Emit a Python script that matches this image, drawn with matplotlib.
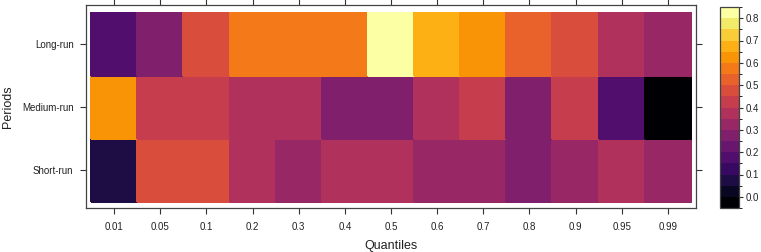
import numpy as np
import matplotlib
matplotlib.use("Agg")
import matplotlib.pyplot as plt
from matplotlib.colors import ListedColormap, BoundaryNorm

plt.rcParams['font.family'] = ['Liberation Sans', 'DejaVu Sans']

quantiles = ["0.01", "0.05", "0.1", "0.2", "0.3", "0.4", "0.5", "0.6", "0.7", "0.8", "0.9", "0.95", "0.99"]
periods = ["Short-run", "Medium-run", "Long-run"]

short_run = [0.07, 0.47, 0.47, 0.37, 0.32, 0.37, 0.37, 0.32, 0.32, 0.27, 0.32, 0.37, 0.32]
medium_run = [0.62, 0.42, 0.42, 0.37, 0.37, 0.27, 0.27, 0.37, 0.42, 0.27, 0.42, 0.17, -0.02]
long_run = [0.17, 0.27, 0.47, 0.57, 0.57, 0.57, 0.82, 0.67, 0.62, 0.52, 0.47, 0.37, 0.32]

levels = np.arange(-0.05, 0.851, 0.05)
cbar_ticks = [0.0, 0.1, 0.2, 0.3, 0.4, 0.5, 0.6, 0.7, 0.8]

Z = np.array([short_run, medium_run, long_run])
ncol = len(quantiles)
nrow = len(periods)

cmap = ListedColormap(plt.cm.inferno(np.linspace(0, 1, len(levels) - 1)))
norm = BoundaryNorm(levels, cmap.N)

fig = plt.figure(figsize=(7.61, 2.52), dpi=100)
ax = fig.add_axes([86/761, 1 - 208/252, (696 - 86)/761, (208 - 5)/252])
xe = np.arange(ncol + 1) - 0.5
ye = np.arange(nrow + 1) - 0.5
mesh = ax.pcolormesh(xe, ye, Z, cmap=cmap, norm=norm, edgecolors='face', linewidth=0.3)

ax.set_xlim(-0.5 - 0.11, ncol - 0.5 + 0.11)
ax.set_ylim(-0.5 - 0.1, nrow - 0.5 + 0.125)
ax.set_xticks(np.arange(ncol))
ax.set_xticklabels(quantiles)
ax.set_yticks(np.arange(nrow))
ax.set_yticklabels(periods)
ax.tick_params(axis='both', which='both', direction='out', length=4, width=0.8,
               color='#333333', labelsize=7, labelcolor='#222222',
               top=True, right=True, labeltop=False, labelright=False)
ax.tick_params(axis='x', pad=6)
ax.tick_params(axis='y', pad=5)
for s in ax.spines.values():
    s.set_color('#444444')
    s.set_linewidth(0.9)

ax.set_xlabel("Quantiles", fontsize=9, color='#222222', labelpad=6)
ax.set_ylabel("Periods", fontsize=9, color='#222222', labelpad=6)

cax = fig.add_axes([720/761, 1 - 208/252, 19/761, 201/252])
cb = fig.colorbar(mesh, cax=cax, boundaries=levels, ticks=cbar_ticks)
cb.ax.set_yticklabels([f"{t:.1f}" for t in cbar_ticks])
cb.ax.tick_params(direction='out', length=3, width=0.8, color='#333333',
                  labelsize=7, labelcolor='#222222', pad=2)
cb.outline.set_edgecolor('#444444')
cb.outline.set_linewidth(0.9)

fig.savefig("out.png", dpi=100)
